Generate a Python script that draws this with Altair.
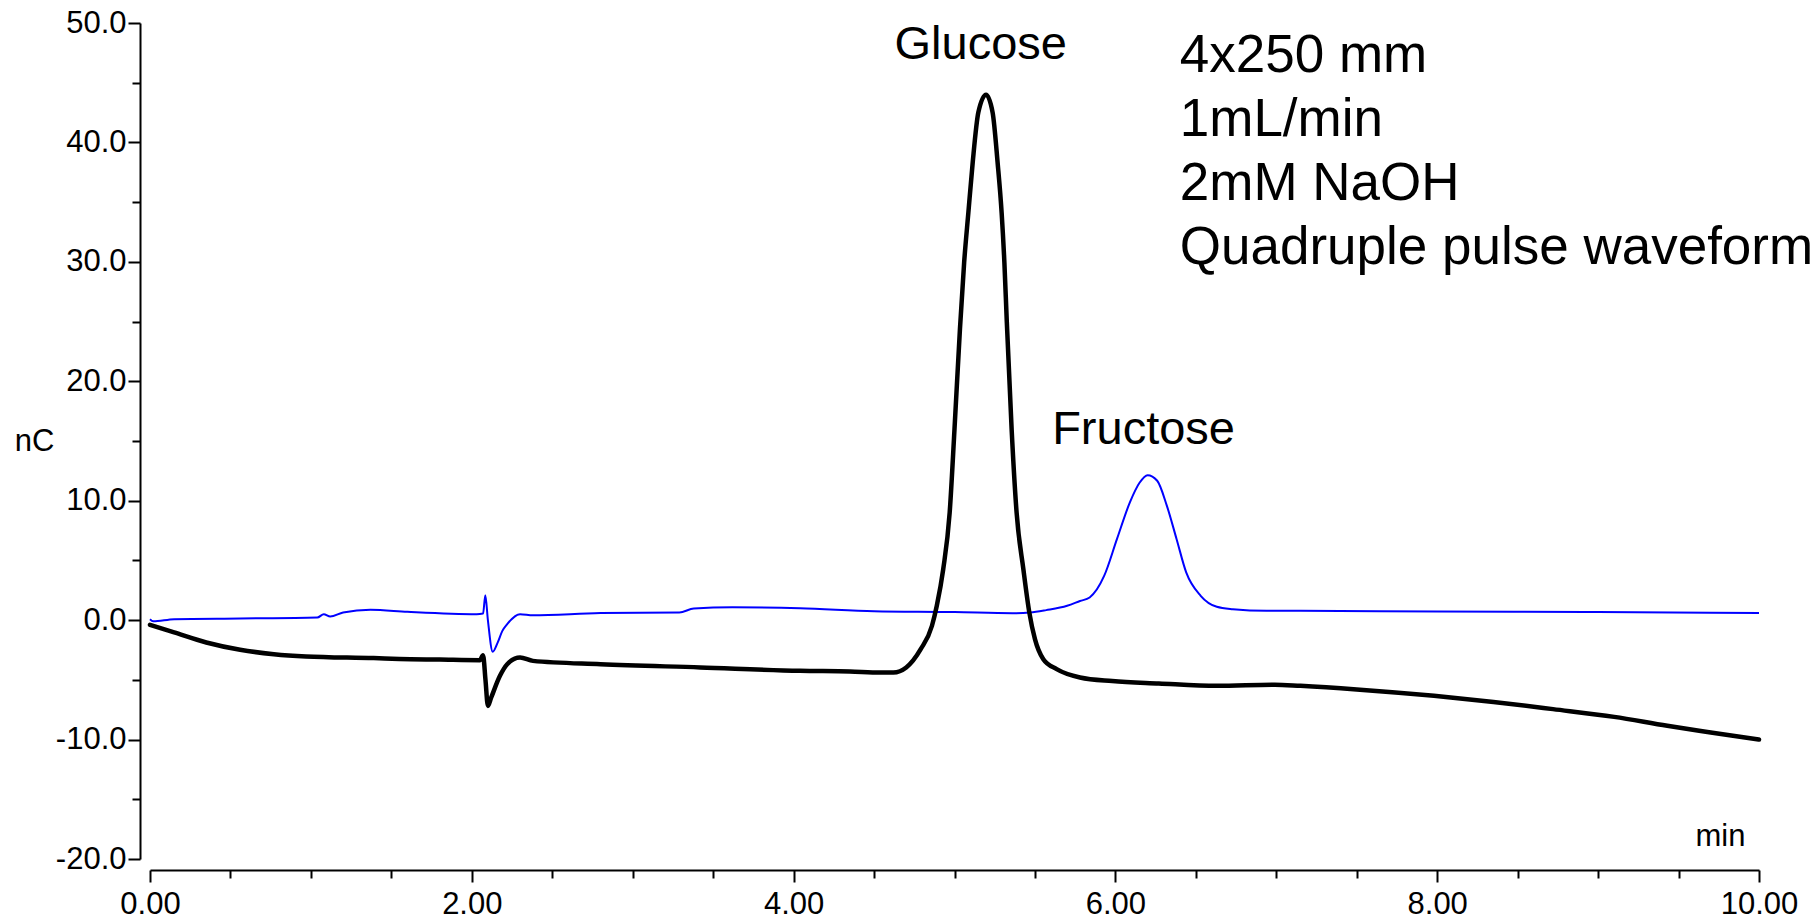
import altair as alt
import pandas as pd

# ---- data ----
black_t = [0.00, 0.15, 0.35, 0.56, 0.77, 0.97, 1.39, 1.55, 1.80, 2.05, 2.07, 2.085, 2.10, 2.12,
           2.175, 2.22, 2.30, 2.38, 2.80, 3.42, 4.04, 4.35, 4.54, 4.62, 4.70, 4.79, 4.86, 4.89,
           4.93, 4.97, 5.00, 5.034, 5.06, 5.086, 5.113, 5.148, 5.196, 5.237, 5.268, 5.293, 5.31,
           5.325, 5.355, 5.386, 5.428, 5.465, 5.50, 5.552, 5.635, 5.78, 5.98, 6.27, 6.63, 6.99,
           7.15, 7.50, 7.98, 8.35, 8.72, 9.10, 9.43, 9.70, 10.00]
black_v = [-0.39, -1.03, -1.87, -2.48, -2.85, -3.04, -3.18, -3.25, -3.30, -3.35, -2.95, -5.0, -7.18, -6.5,
           -4.66, -3.69, -3.13, -3.41, -3.69, -3.96, -4.24, -4.30, -4.38, -4.38, -3.96, -2.43, -0.47, 1.2,
           4.27, 9.0, 16.0, 24.4, 29.96, 34.1, 38.3, 42.5, 44.0, 42.5, 38.3, 34.1, 29.96,
           25.0, 16.0, 9.0, 4.27, 0.64, -1.59, -3.27, -4.10, -4.80, -5.10, -5.30, -5.50, -5.40,
           -5.50, -5.80, -6.34, -6.85, -7.45, -8.10, -8.85, -9.40, -10.00]

blue_t = [0.00, 0.02, 0.15, 0.56, 1.04, 1.08, 1.12, 1.20, 1.37, 1.60, 2.03, 2.07, 2.084, 2.10,
          2.13, 2.16, 2.19, 2.22, 2.30, 2.38, 2.80, 3.29, 3.38, 3.62, 4.04, 4.50, 5.00, 5.36,
          5.47, 5.57, 5.70, 5.78, 5.84, 5.93, 6.01, 6.09, 6.15, 6.20, 6.26, 6.32, 6.38, 6.44,
          6.53, 6.63, 6.73, 6.94, 7.15, 8.00, 9.00, 10.00]
blue_v = [0.08, -0.10, 0.08, 0.14, 0.22, 0.50, 0.30, 0.64, 0.87, 0.70, 0.50, 0.55, 2.09, 0.0,
          -2.65, -1.9, -0.9, -0.33, 0.50, 0.40, 0.59, 0.64, 0.98, 1.07, 1.00, 0.75, 0.68, 0.58,
          0.64, 0.84, 1.20, 1.60, 1.90, 3.70, 6.80, 9.86, 11.50, 12.14, 11.67, 9.57, 6.80, 4.00,
          2.04, 1.12, 0.92, 0.78, 0.78, 0.72, 0.68, 0.59]

peak_names = ["Glucose", "Fructose"]
peak_t = [5.163, 6.175]
peak_v = [46.98, 14.74]

info_lines = ["4x250 mm", "1mL/min", "2mM NaOH", "Quadruple pulse waveform"]
info_t = [6.40]
info_v = [45.9]

x_ticks = [i * 0.5 for i in range(21)]
y_ticks = [-20 + i * 2.5 for i in range(29)]

FONT = "Liberation Sans, Arial, Helvetica, sans-serif"

xscale = alt.Scale(domain=[0, 10], nice=False, zero=False)
yscale = alt.Scale(domain=[-20, 50], nice=False, zero=False)

xaxis = alt.Axis(
    values=x_ticks,
    labelExpr="datum.value % 2 === 0 ? format(datum.value, '.2f') : ''",
    title="min", titleX=1595, titleY=-25, titleAlign="right", titleBaseline="alphabetic",
    titleFontSize=31, titleFontWeight="normal", titleFont=FONT, titleColor="black",
    offset=11, grid=False, domainWidth=2, domainColor="black",
    tickWidth=2, tickColor="black",
    tickSize={"condition": {"test": "datum.value % 2 === 0", "value": 12}, "value": 8},
    labelFontSize=31, labelFont=FONT, labelColor="black", labelPadding=7,
    labelFlush=False, labelOverlap=False, labelBound=False,
)
yaxis = alt.Axis(
    values=y_ticks,
    labelExpr="datum.value % 10 === 0 ? (datum.value < 0 ? '-' : '') + format(abs(datum.value), '.1f') : ''",
    title="nC", titleAngle=0, titleX=-106, titleY=427, titleAlign="center", titleBaseline="alphabetic",
    titleFontSize=31, titleFontWeight="normal", titleFont=FONT, titleColor="black",
    offset=10, grid=False, domainWidth=2, domainColor="black",
    tickWidth=2, tickColor="black",
    tickSize={"condition": {"test": "datum.value % 10 === 0", "value": 12}, "value": 8},
    labelFontSize=31, labelFont=FONT, labelColor="black", labelPadding=2,
    labelFlush=False, labelOverlap=False, labelBound=False,
)

df_blue = pd.DataFrame({"t": blue_t, "v": blue_v})
df_black = pd.DataFrame({"t": black_t, "v": black_v})
df_peaks = pd.DataFrame({"t": peak_t, "v": peak_v, "name": peak_names})
df_info = pd.DataFrame({"t": info_t, "v": info_v})

blue = alt.Chart(df_blue).mark_line(
    color="#0000FF", strokeWidth=2, interpolate="monotone", strokeJoin="round"
).encode(
    x=alt.X("t:Q", scale=xscale, axis=xaxis),
    y=alt.Y("v:Q", scale=yscale, axis=yaxis),
)

black = alt.Chart(df_black).mark_line(
    color="black", strokeWidth=4.5, interpolate="monotone", strokeJoin="round", strokeCap="round"
).encode(x="t:Q", y="v:Q")

peaks = alt.Chart(df_peaks).mark_text(
    font=FONT, fontSize=47, align="center", baseline="alphabetic", color="black"
).encode(x="t:Q", y="v:Q", text="name:N")

info = alt.Chart(df_info).mark_text(
    font=FONT, fontSize=53, align="left", baseline="alphabetic", color="black",
    lineHeight=64, text=info_lines
).encode(x="t:Q", y="v:Q")

chart = alt.layer(blue, black, peaks, info).properties(
    width=1609, height=836,
    autosize=alt.AutoSizeParams(type="none"),
    padding={"left": 150, "top": 23, "right": 59, "bottom": 60},
    background="white",
).configure_view(stroke=None)

chart.save("out.html", embed_options={"renderer": "svg", "actions": False})
